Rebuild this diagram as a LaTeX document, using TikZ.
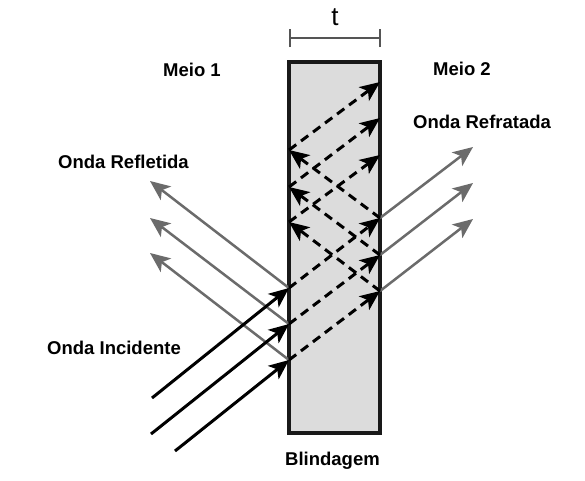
\documentclass[tikz,border=0pt]{standalone}
\usepackage{fontspec}
\setmainfont{Liberation Sans}
\usetikzlibrary{arrows.meta}
\definecolor{wavegray}{HTML}{6B6B6B}
\definecolor{shieldfill}{HTML}{DCDCDC}
\definecolor{dimgray}{HTML}{555555}
\begin{document}
\begin{tikzpicture}[x=1pt,y=-1pt,
  lbl/.style={inner sep=0pt,anchor=base west,font=\fontsize{18.5}{20}\selectfont\bfseries},
  tipstyle/.style={-{Stealth[length=20pt,width=17pt,inset=5pt]}},
  incid/.style={line width=3pt,black,tipstyle},
  outw/.style={line width=2.5pt,wavegray,tipstyle},
  inner/.style={line width=3pt,black,dash pattern=on 9pt off 6pt,tipstyle},
  shieldbox/.style={draw=black!90,line width=3.5pt,fill=shieldfill,minimum width=91pt,minimum height=371pt,inner sep=0pt}
]
\useasboundingbox[fill=white] (0,0) rectangle (585,480);
\node[shieldbox] (shield) at (334.5,247.5) {};
% dimension t
\coordinate (dA) at (290,38);
\coordinate (dB) at (380,38);
\draw[dimgray,line width=2pt] (dA) -- (dB);
\draw[dimgray,line width=2pt] ([yshift=-9pt]dA) -- ([yshift=9pt]dA);
\draw[dimgray,line width=2pt] ([yshift=-9pt]dB) -- ([yshift=9pt]dB);
\node[inner sep=0pt,anchor=base,font=\fontsize{26}{28}\selectfont] (tlab) at (335,25) {t};
% points
\coordinate (L1) at (289,288); \coordinate (L2) at (289,324); \coordinate (L3) at (289,360);
\coordinate (R1) at (380,218); \coordinate (R2) at (380,255); \coordinate (R3) at (380,291);
\coordinate (B1) at (289,150); \coordinate (B2) at (289,187); \coordinate (B3) at (289,222);
\coordinate (C1) at (380,82);  \coordinate (C2) at (380,118); \coordinate (C3) at (380,155);
\coordinate (I1) at (152,398); \coordinate (I2) at (151,434); \coordinate (I3) at (175,451);
\coordinate (F1) at (150,181); \coordinate (F2) at (150,218); \coordinate (F3) at (150,253);
\coordinate (T1) at (473,147); \coordinate (T2) at (473,183); \coordinate (T3) at (473,219);
% reflected
\foreach \i in {1,2,3} \draw[outw] (L\i) -- (F\i);
% transmitted
\foreach \i in {1,2,3} \draw[outw] (R\i) -- (T\i);
% inside
\foreach \i in {1,2,3} {
  \draw[inner] (L\i) -- (R\i);
  \draw[inner] (R\i) -- (B\i);
  \draw[inner] (B\i) -- (C\i);
}
% incident
\foreach \i in {1,2,3} \draw[incid] (I\i) -- (L\i);
% labels
\node[lbl] (m1) at (163,76) {Meio 1};
\node[lbl] (m2) at (433,75) {Meio 2};
\node[lbl] (refl) at (58,168) {Onda Refletida};
\node[lbl] (refr) at (413,128) {Onda Refratada};
\node[lbl] (inc) at (47,354) {Onda Incidente};
\node[lbl] (bl) at (285,465) {Blindagem};
\end{tikzpicture}
\end{document}
